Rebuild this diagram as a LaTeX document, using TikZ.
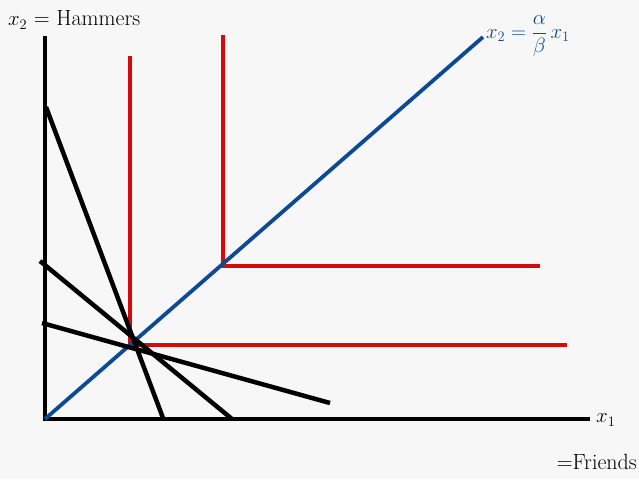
\documentclass[tikz,border=0pt]{standalone}
\usepackage{amsmath}
\definecolor{raycol}{RGB}{12,74,150}
\definecolor{leoncol}{RGB}{215,10,10}
\begin{document}
\begin{tikzpicture}[x=1pt,y=-1pt,
  axis/.style={line width=4.5pt,black},
  budget/.style={line width=4.5pt,black},
  leon/.style={line width=3.8pt,leoncol},
  ray/.style={line width=3.8pt,raycol},
  lbl/.style={font=\fontsize{22}{26}\selectfont,inner sep=0pt}]
\useasboundingbox (0,0) rectangle (639,479);
\fill[white!97!black] (0,0) rectangle (639,479);
% axes
\coordinate (O) at (45,419);
\coordinate (ytop) at (45,36);
\coordinate (xend) at (590,419);
\draw[axis] (ytop) -- (O) -- (xend);
% red Leontief indifference curves
\coordinate (k1) at (130,345);
\coordinate (k1t) at (130,56);
\coordinate (k1r) at (567,345);
\coordinate (k2) at (223,266);
\coordinate (k2t) at (223,35);
\coordinate (k2r) at (540,266);
\draw[leon] (k1t) -- (k1) -- (k1r);
\draw[leon] (k2t) -- (k2) -- (k2r);
% blue ray
\coordinate (rayend) at (483,37);
\draw[ray] (O) -- (rayend);
% budget lines
\coordinate (a1) at (46,107); \coordinate (a2) at (163,418);
\coordinate (b1) at (40,261); \coordinate (b2) at (232,419);
\coordinate (c1) at (42,323); \coordinate (c2) at (330,403);
\draw[budget] (a1) -- (a2);
\draw[budget] (b1) -- (b2);
\draw[budget] (c1) -- (c2);
% labels
\node[lbl,anchor=west] (ylab) at (8,20) {$x_2$ = Hammers};
\node[lbl,anchor=west,text=raycol] (raylab) at (486,36) {$x_2=\dfrac{\alpha}{\beta}\,x_1$};
\node[lbl,anchor=west] (xlab) at (596,420) {$x_1$};
\node[lbl,anchor=east] (flab) at (637,462) {=Friends};
\end{tikzpicture}
\end{document}
